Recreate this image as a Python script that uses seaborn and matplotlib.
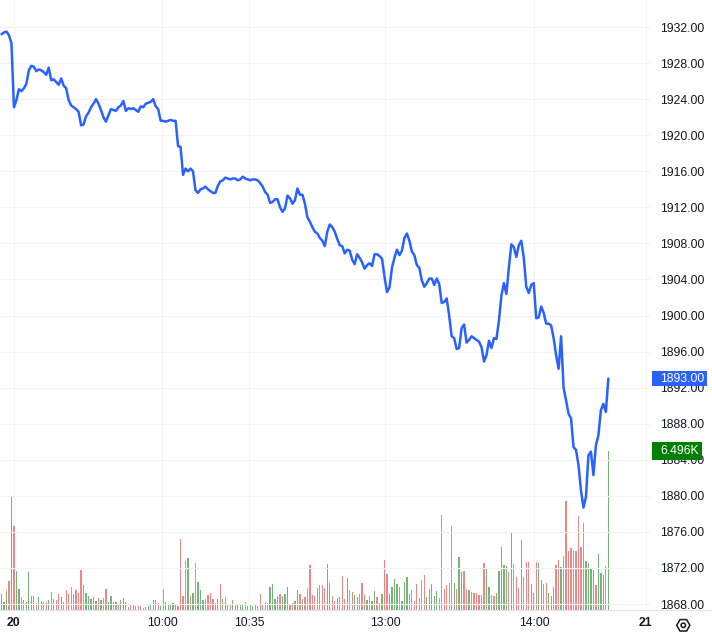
import numpy as np
import pandas as pd
import seaborn as sns
import matplotlib
matplotlib.use('Agg')
import matplotlib.pyplot as plt
import matplotlib.transforms as mtransforms
from matplotlib.patches import Rectangle, RegularPolygon, Circle
from matplotlib.lines import Line2D

# 1-minute closes
price = [
    1931.2, 1931.4, 1931.5, 1931.1, 1930.2, 1923.1, 1923.9, 1925.1, 1924.9, 1925.2,
    1925.7, 1927.2, 1927.7, 1927.6, 1927.1, 1927.3, 1927.2, 1927.0, 1926.7, 1927.5,
    1926.1, 1926.2, 1925.9, 1925.6, 1926.3, 1925.5, 1925.2, 1923.9, 1923.3, 1923.1,
    1922.9, 1922.6, 1921.1, 1921.2, 1922.1, 1922.5, 1923.1, 1923.5, 1924.0, 1923.5,
    1922.8, 1922.0, 1921.5, 1922.2, 1922.9, 1922.8, 1922.7, 1923.1, 1923.3, 1923.8,
    1922.7, 1923.0, 1922.9, 1923.0, 1922.8, 1922.6, 1923.2, 1923.1, 1923.5, 1923.6,
    1923.7, 1924.0, 1923.2, 1922.9, 1921.6, 1921.6, 1921.5, 1921.6, 1921.7, 1921.6,
    1921.6, 1918.8, 1918.7, 1915.6, 1916.3, 1916.0, 1916.3, 1916.0, 1913.9, 1913.6,
    1914.0, 1914.1, 1914.3, 1914.0, 1913.8, 1913.6, 1913.6, 1914.4, 1914.9, 1915.0,
    1915.3, 1915.2, 1915.1, 1915.2, 1915.2, 1915.0, 1915.1, 1915.4, 1915.2, 1915.1,
    1915.0, 1915.1, 1915.1, 1915.0, 1914.7, 1914.3, 1913.7, 1913.4, 1912.5, 1912.6,
    1912.9, 1912.9, 1912.0, 1911.5, 1911.9, 1913.3, 1913.0, 1912.4, 1912.8, 1914.1,
    1913.4, 1913.4, 1912.4, 1910.9, 1910.4, 1909.8, 1909.3, 1909.1, 1908.6, 1908.3,
    1907.7, 1909.3, 1910.1, 1909.8, 1909.3, 1908.5, 1907.8, 1907.7, 1906.9, 1907.3,
    1907.2, 1906.2, 1905.7, 1906.8, 1906.4, 1905.9, 1905.2, 1905.6, 1905.8, 1905.5,
    1906.8, 1906.8, 1906.6, 1906.3, 1904.3, 1902.6, 1903.1, 1905.3, 1906.4, 1907.3,
    1906.7, 1907.2, 1908.6, 1909.1, 1908.3, 1907.1, 1906.7, 1905.6, 1905.3, 1903.9,
    1903.2, 1903.6, 1904.1, 1904.1, 1903.4, 1904.1, 1903.5, 1901.4, 1901.5, 1901.9,
    1900.0, 1897.7, 1897.5, 1896.3, 1896.4, 1898.6, 1899.0, 1897.0, 1897.3, 1897.7,
    1897.5, 1897.3, 1897.1, 1896.5, 1894.9, 1895.6, 1897.2, 1896.4, 1897.5, 1897.4,
    1899.4, 1902.2, 1903.6, 1902.4, 1905.3, 1907.9, 1907.6, 1906.5, 1907.8, 1908.3,
    1906.4, 1903.2, 1902.5, 1903.4, 1903.6, 1899.7, 1899.8, 1901.0, 1900.3, 1899.1,
    1899.1, 1898.9, 1897.5, 1895.6, 1894.1, 1897.7, 1892.0, 1890.6, 1889.1, 1888.6,
    1885.4, 1885.1, 1883.4, 1880.6, 1878.7, 1879.9, 1884.5, 1884.9, 1882.3, 1885.6,
    1886.7, 1889.5, 1890.2, 1889.3, 1893.0,
]

volume = [
    650, 330, 780, 1180, 4620, 3430, 1590, 860, 530, 410,
    330, 1550, 570, 570, 290, 530, 370, 330, 330, 410,
    740, 450, 410, 650, 530, 330, 820, 650, 940, 650,
    820, 690, 1630, 1020, 690, 570, 450, 530, 370, 490,
    410, 490, 860, 330, 570, 330, 330, 250, 410, 490,
    330, 120, 200, 200, 160, 160, 160, 80, 120, 160,
    250, 410, 410, 290, 160, 860, 330, 250, 200, 290,
    250, 160, 2900, 570, 2000, 2120, 570, 690, 1920, 1140,
    820, 410, 450, 610, 690, 450, 290, 450, 1060, 450,
    530, 250, 250, 410, 250, 250, 200, 250, 330, 160,
    200, 160, 250, 160, 650, 250, 330, 290, 940, 1060,
    450, 570, 650, 570, 650, 940, 250, 290, 370, 820,
    650, 450, 530, 900, 1840, 610, 570, 900, 1020, 1020,
    900, 1880, 1100, 570, 370, 490, 530, 1390, 450, 1310,
    820, 740, 610, 530, 650, 1100, 610, 410, 570, 370,
    780, 530, 290, 650, 2040, 1470, 650, 940, 1270, 1060,
    940, 370, 1140, 1350, 650, 820, 370, 1060, 490, 1230,
    1430, 530, 860, 1060, 570, 780, 490, 3880, 860, 1020,
    1100, 3430, 1100, 860, 2170, 1550, 1590, 860, 820, 740,
    690, 690, 610, 610, 1920, 1720, 940, 610, 570, 690,
    1610, 2590, 1840, 1800, 1570, 3200, 1880, 1340, 890, 2860,
    1360, 1980, 1980, 1060, 680, 1980, 1910, 1230, 1060, 1090,
    680, 570, 930, 1840, 2040, 1740, 2210, 4470, 2420, 2520,
    2420, 2420, 3840, 2590, 3570, 2020, 1930, 1700, 1630, 1020,
    2290, 1530, 1430, 1800, 6496,
]

# G = up bar, R = down bar
vol_side = list(
    "GGGRGRGGRG" "GGGGRGGRRG" "RGRRGRRRRR" "RRRRGGGGGR" "GRRGGRRGGG"
    "RGRGRRRRGG" "GGRRGRGGGG" "GRRRRGRGRG" "GGRRRRGGRG" "GRRGRGGGRG"
    "GGRRRRRRGG" "GGRGGGRRGG" "RGRRRRRRRR" "RGGRRGRRRG" "RRGGRRRGRG"
    "GRRGRRGGGG" "RGGGRRRRRR" "RGGGGGRRRR" "RRGRGGRRGR" "RRRRRGGRRG"
    "GGGGRGRRRG" "RRRGGRGGRR" "GGRRRGRRRR" "RRRRRGGGGR" "GGGRG"
)

tick_pos = [5.0, 64.7, 99.6, 154.3, 214.1, 259.1]
tick_labels = ['20', '10:00', '10:35', '13:00', '14:00', '21']
price_ticks = np.arange(1868, 1933, 4)

assert len(price) == len(volume) == len(vol_side)

bars = np.arange(len(price))
df = pd.DataFrame({'bar': bars, 'price': price, 'volume': volume, 'side': vol_side})

sns.set_style('white')
plt.rcParams['font.family'] = ['Liberation Sans', 'DejaVu Sans']

text_col = '#131722'
grid_col = '#f0f2f5'
line_col = '#2962ff'
up_col = '#6fbb6f'
down_col = '#ff7575'

fig = plt.figure(figsize=(7.12, 6.36), dpi=100)
ax_vol = fig.add_axes([0, 26 / 636, 650 / 712, 610 / 636])
ax = ax_vol.twinx()

# volume bars at the bottom
sns.barplot(data=df, x='bar', y='volume', hue='side',
            palette={'G': up_col, 'R': down_col}, native_scale=True,
            dodge=False, width=0.5, linewidth=0, errorbar=None,
            legend=False, ax=ax_vol)
ax_vol.set_ylim(0, 24925)
ax_vol.set_yticks([])
ax_vol.set_xlabel('')
ax_vol.set_ylabel('')
ax_vol.set_axisbelow(True)
ax_vol.grid(axis='x', color=grid_col, lw=0.8)
ax_vol.grid(axis='y', visible=False)

# price line
sns.lineplot(data=df, x='bar', y='price', color=line_col, linewidth=1.8, ax=ax)
ax.set_ylim(1867.34, 1935.0)
ax.set_xlim(-0.6, 260.75)
ax_vol.set_xlim(-0.6, 260.75)
ax.set_xlabel('')
ax.set_ylabel('')
ax.set_yticks(price_ticks)
ax.set_yticklabels([f'{t:.2f}' for t in price_ticks])
ax.yaxis.set_ticks_position('right')
ax.tick_params(axis='y', length=0, pad=7.2, labelsize=8.8, labelcolor=text_col)
ax.grid(axis='y', color=grid_col, lw=0.8)
ax.grid(axis='x', visible=False)

ax_vol.set_xticks(tick_pos)
ax_vol.set_xticklabels(tick_labels)
ax_vol.tick_params(axis='x', length=0, pad=5, labelsize=8.8, labelcolor=text_col)
for lbl in ax_vol.get_xticklabels():
    if ':' not in lbl.get_text():
        lbl.set_fontweight('bold')

for a in (ax, ax_vol):
    for s in a.spines.values():
        s.set_visible(False)

# bottom border of the pane
fig.add_artist(Line2D([0, 1], [26 / 636, 26 / 636], transform=fig.transFigure,
                      color='#e0e3eb', lw=0.8))

# last price tag
tr_p = mtransforms.blended_transform_factory(ax.transAxes, ax.transData)
fig.add_artist(Rectangle((652 / 650, price[-1] - 0.85), 55 / 650, 1.7,
                         transform=tr_p, color=line_col, lw=0, zorder=5))
fig.add_artist(plt.Text(660 / 650, price[-1], f'{price[-1]:.2f}', transform=tr_p,
                        color='white', fontsize=8.8, va='center', ha='left', zorder=6))

# last volume tag
tr_v = mtransforms.blended_transform_factory(ax_vol.transAxes, ax_vol.transData)
fig.add_artist(Rectangle((652 / 650, volume[-1] - 350), 50 / 650, 700,
                         transform=tr_v, color='#008000', lw=0, zorder=5))
fig.add_artist(plt.Text(660 / 650, volume[-1], f'{volume[-1] / 1000:.3f}K', transform=tr_v,
                        color='white', fontsize=8.8, va='center', ha='left', zorder=6))

# settings icon
fig.add_artist(RegularPolygon((6.833, 0.107), numVertices=6, radius=0.066,
                              orientation=np.pi / 6, transform=fig.dpi_scale_trans,
                              fill=False, ec=text_col, lw=1.1))
fig.add_artist(Circle((6.833, 0.107), radius=0.022, transform=fig.dpi_scale_trans,
                      fill=False, ec=text_col, lw=1.1))

fig.savefig('out.png', dpi=100)
